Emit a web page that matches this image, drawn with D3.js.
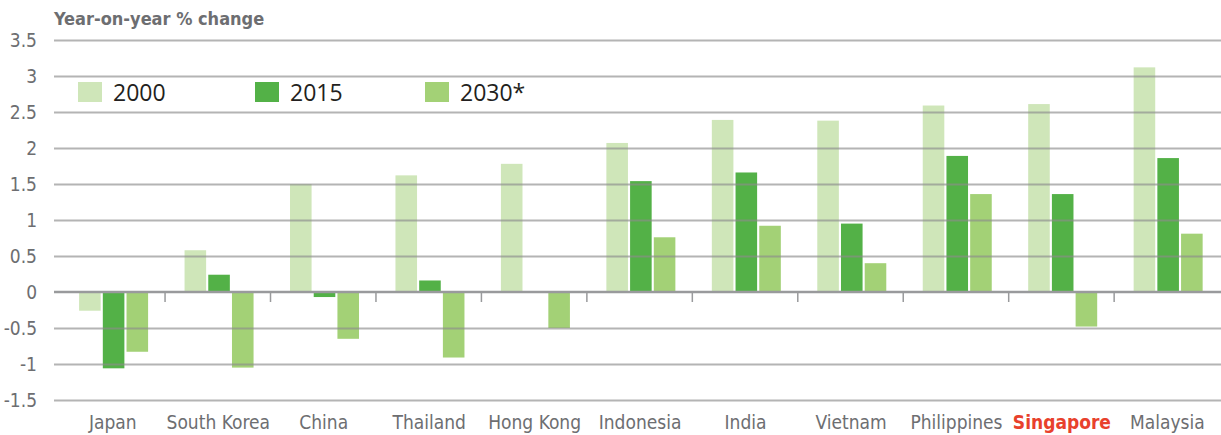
<!DOCTYPE html>
<html>
<head>
<meta charset="utf-8">
<script src="https://cdn.jsdelivr.net/npm/d3@7"></script>
<style>
  body { margin: 0; background: #fff; }
  svg { display: block; }
</style>
</head>
<body>
<script>
"use strict";

// countries along the x axis
let countries = ["Japan", "South Korea", "China", "Thailand", "Hong Kong", "Indonesia",
    "India", "Vietnam", "Philippines", "Singapore", "Malaysia"];
let years = ["2000", "2015", "2030*"];
// year-on-year % change
let v2000 = [-0.26, 0.58, 1.50, 1.62, 1.78, 2.07, 2.39, 2.38, 2.59, 2.61, 3.12];
let v2015 = [-1.06, 0.24, -0.07, 0.16, 0, 1.54, 1.66, 0.95, 1.89, 1.36, 1.86];
let v2030 = [-0.83, -1.05, -0.65, -0.91, -0.50, 0.76, 0.92, 0.40, 1.36, -0.48, 0.81];
let yTicks = [3.5, 3, 2.5, 2, 1.5, 1, 0.5, 0, -0.5, -1, -1.5];
let colors = ["#cfe6b9", "#53b147", "#a3d176"];

let w = 1221, h = 435;
let condensed = "'Liberation Sans Narrow', 'DejaVu Sans Condensed', sans-serif";

let svg = d3.select("body").append("svg")
    .attr("width", w)
    .attr("height", h);

let x = d3.scaleBand().domain(countries).range([59.6, 1219.6]);
let x1 = d3.scaleBand().domain(years).range([19.5, 88.5]).paddingInner(0.09);
let y = d3.scaleLinear().domain([-1.5, 3.5]).range([400, 40]);

let series = [v2000, v2015, v2030];
let rows = [];
countries.forEach(function (c, i) {
    years.forEach(function (yr, j) {
        rows.push({ country: c, year: yr, value: series[j][i], color: colors[j] });
    });
});

//bars first, grid goes on top of them
svg.append("g").selectAll("rect")
    .data(rows.filter(function (d) { return d.value !== 0; }))
    .enter()
    .append("rect")
    .attr("x", function (d) { return x(d.country) + x1(d.year); })
    .attr("width", x1.bandwidth())
    .attr("y", function (d) { return y(Math.max(0, d.value)); })
    .attr("height", function (d) { return Math.abs(y(d.value) - y(0)); })
    .style("fill", function (d) { return d.color; });

//gridlines
let grid = d3.axisLeft(y).tickValues(yTicks.filter(function (t) { return t !== 0; }))
    .tickSize(-(w - 54)).tickFormat("");
svg.append("g")
    .attr("transform", "translate(54,0)")
    .call(grid)
    .call(function (g) { g.select(".domain").remove(); })
    .selectAll("line")
    .style("stroke", "#8c8c8c")
    .style("stroke-opacity", 0.65)
    .style("stroke-width", 2);

//y tick labels
svg.append("g").selectAll("text")
    .data(yTicks)
    .enter()
    .append("text")
    .attr("x", 37)
    .attr("y", function (d) { return y(d) + 7; })
    .attr("text-anchor", "end")
    .style("font", "19px " + condensed)
    .style("fill", "#6d6e71")
    .text(function (d) { return d; });

//zero line with ticks between the countries
svg.append("line")
    .attr("x1", 54).attr("x2", w)
    .attr("y1", y(0)).attr("y2", y(0))
    .style("stroke", "#999a9c")
    .style("stroke-width", 2.5);

svg.append("g").selectAll("line")
    .data(countries.slice(1))
    .enter()
    .append("line")
    .attr("x1", function (d) { return x(d); })
    .attr("x2", function (d) { return x(d); })
    .attr("y1", y(0))
    .attr("y2", y(0) + 10)
    .style("stroke", "#999a9c")
    .style("stroke-width", 1.5);

//country labels
svg.append("g").selectAll("text")
    .data(countries)
    .enter()
    .append("text")
    .attr("x", function (d) { return x(d) + x.bandwidth() / 2 + 0.5; })
    .attr("y", 429)
    .attr("text-anchor", "middle")
    .style("font", function (d) { return (d === "Singapore" ? "bold " : "") + "19px " + condensed; })
    .style("fill", function (d) { return d === "Singapore" ? "#e8412c" : "#6d6e71"; })
    .text(function (d) { return d; });

//title
svg.append("text")
    .attr("x", 54)
    .attr("y", 25)
    .style("font", "bold 18px " + condensed)
    .style("fill", "#6d6e71")
    .text("Year-on-year % change");

//legend
let legendX = [78, 255, 425];
let legend = svg.append("g").selectAll("g")
    .data(years)
    .enter()
    .append("g")
    .attr("transform", function (d, i) { return "translate(" + legendX[i] + ",82)"; });

legend.append("rect")
    .attr("width", 24)
    .attr("height", 20)
    .style("fill", function (d, i) { return colors[i]; });

legend.append("text")
    .attr("x", 35)
    .attr("y", 19)
    .style("font", "23px 'Open Sans', 'Noto Sans', sans-serif")
    .style("fill", "#231f20")
    .text(function (d) { return d; });
</script>
</body>
</html>
